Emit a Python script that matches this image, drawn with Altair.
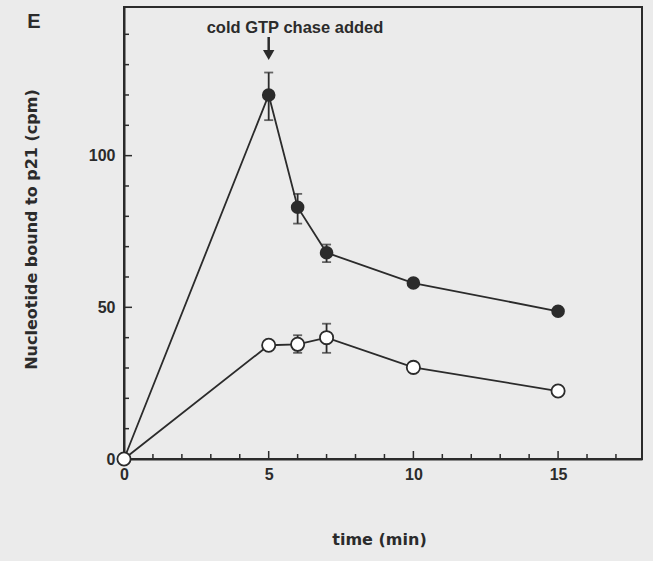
import altair as alt
import pandas as pd

# ---- data ----
time = [0, 5, 6, 7, 10, 15]
chase = [0, 120, 83, 68, 58, 48.7]          # filled circles
control = [0, 37.5, 37.8, 40, 30.2, 22.4]   # open circles

err_time = [5, 6, 7, 6, 7]
err_low = [111.7, 77.6, 64.9, 35.0, 35.0]
err_high = [127.4, 87.4, 70.7, 40.8, 44.6]

x_minor = [t for t in range(0, 18) if t % 5]
x_major = [0, 5, 10, 15]
y_minor = [v for v in range(0, 150, 10) if v % 50]
y_major = [0, 50, 100]

annotation = "cold GTP chase added"
annotation_time = 5
panel_label = "E"

FONT = "Liberation Sans"
TFONT = "DejaVu Sans"
INK = "#2b2b2b"
W, H = 518, 452

df_chase = pd.DataFrame({"t": time, "v": chase})
df_ctrl = pd.DataFrame({"t": time, "v": control})
df_err = pd.DataFrame({"t": err_time, "lo": err_low, "hi": err_high})
df_xmin = pd.DataFrame({"t": x_minor})
df_xmaj = pd.DataFrame({"t": x_major})
df_ymin = pd.DataFrame({"v": y_minor})
df_ymaj = pd.DataFrame({"v": y_major})
df_ann = pd.DataFrame({"t": [annotation_time], "txt": [annotation]})

xscale = alt.Scale(domain=[0, 17.9], nice=False, zero=False)
yscale = alt.Scale(domain=[0, 149], nice=False, zero=False)

xaxis = alt.Axis(values=x_major, tickSize=0, grid=False, domainColor=INK, domainWidth=2,
                 labelFont=FONT, labelFontSize=16, labelFontWeight="bold", labelColor=INK,
                 labelPadding=7, title="time  (min)", titleFont=TFONT, titleFontSize=16,
                 titleFontWeight="bold", titleColor=INK, titleX=255, titleY=80,
                 titleBaseline="middle", titleAlign="center", labelFlush=False)
yaxis = alt.Axis(values=y_major, tickSize=0, grid=False, domainColor=INK, domainWidth=2,
                 labelFont=FONT, labelFontSize=16, labelFontWeight="bold", labelColor=INK,
                 labelPadding=9, title="Nucleotide  bound  to  p21  (cpm)", titleFont=TFONT,
                 titleFontSize=16, titleFontWeight="bold", titleColor=INK,
                 titleX=-93, titleY=222, titleAngle=-90, titleAlign="center",
                 titleBaseline="middle", labelFlush=False)

X = alt.X("t:Q", scale=xscale, axis=xaxis)
Y = alt.Y("v:Q", scale=yscale, axis=yaxis)

line_chase = alt.Chart(df_chase).mark_line(color=INK, strokeWidth=1.8).encode(x=X, y=Y)
line_ctrl = alt.Chart(df_ctrl).mark_line(color=INK, strokeWidth=1.8).encode(x=X, y=Y)

err_rule = alt.Chart(df_err).mark_rule(color=INK, strokeWidth=1.8).encode(
    x="t:Q", y="lo:Q", y2="hi:Q")
cap_lo = alt.Chart(df_err).mark_tick(color=INK, thickness=1.8, size=9, orient="horizontal").encode(
    x="t:Q", y="lo:Q")
cap_hi = alt.Chart(df_err).mark_tick(color=INK, thickness=1.8, size=9, orient="horizontal").encode(
    x="t:Q", y="hi:Q")

pts_chase = alt.Chart(df_chase).mark_point(filled=True, color=INK, size=185, opacity=1).encode(
    x="t:Q", y="v:Q")
pts_ctrl = alt.Chart(df_ctrl).mark_point(filled=True, fill="white", stroke=INK, strokeWidth=1.8,
                                         size=175, opacity=1).encode(x="t:Q", y="v:Q")

xt_min = alt.Chart(df_xmin).mark_rule(color=INK, strokeWidth=1.5).encode(
    x="t:Q", y=alt.value(H), y2=alt.value(H - 5))
xt_maj = alt.Chart(df_xmaj).mark_rule(color=INK, strokeWidth=1.5).encode(
    x="t:Q", y=alt.value(H), y2=alt.value(H - 8))
yt_min = alt.Chart(df_ymin).mark_rule(color=INK, strokeWidth=1.5).encode(
    y="v:Q", x=alt.value(0), x2=alt.value(5))
yt_maj = alt.Chart(df_ymaj).mark_rule(color=INK, strokeWidth=1.5).encode(
    y="v:Q", x=alt.value(0), x2=alt.value(8))

arrow_shaft = alt.Chart(df_ann).mark_rule(color=INK, strokeWidth=2.5).encode(
    x="t:Q", y=alt.value(30), y2=alt.value(46))
arrow_head = alt.Chart(df_ann).mark_point(shape="triangle-down", filled=True, color=INK,
                                          size=130, opacity=1).encode(
    x="t:Q", y=alt.value(48))
ann_text = alt.Chart(df_ann).mark_text(font=FONT, fontSize=16.5, fontWeight="bold", color=INK,
                                       align="left", baseline="alphabetic", dx=-62).encode(
    x="t:Q", y=alt.value(26), text="txt:N")
label_e = alt.Chart(pd.DataFrame({"txt": [panel_label]})).mark_text(
    font=FONT, fontSize=20, fontWeight="bold", color=INK, align="center",
    baseline="middle").encode(x=alt.value(-90), y=alt.value(15), text="txt:N")

chart = alt.layer(
    xt_min, xt_maj, yt_min, yt_maj, line_chase, line_ctrl, err_rule, cap_lo, cap_hi,
    pts_chase, pts_ctrl, arrow_shaft, arrow_head, ann_text, label_e
).properties(
    width=W, height=H,
    autosize=alt.AutoSizeParams(type="none"),
    padding={"left": 124, "top": 7, "right": 11, "bottom": 102},
    background="#ebebeb",
).configure_view(stroke=INK, strokeWidth=2)

chart.save("out.html", embed_options={"renderer": "svg", "actions": False})
